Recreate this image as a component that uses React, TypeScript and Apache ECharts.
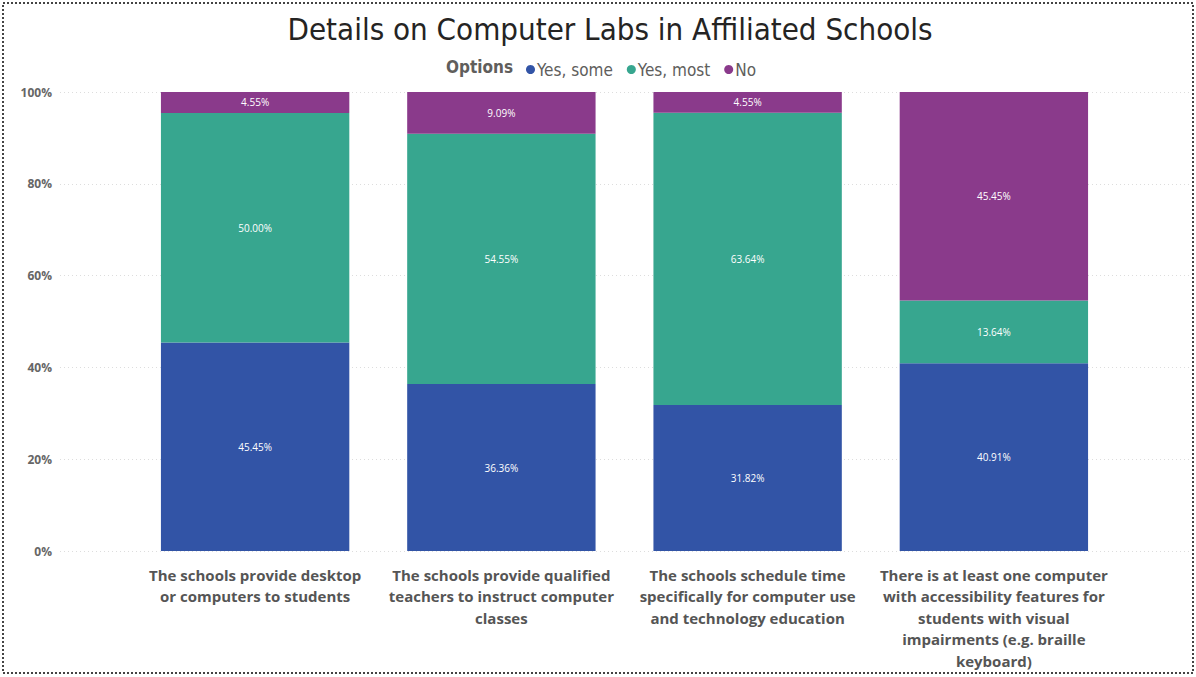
import React, { useEffect, useRef } from "react";
import * as echarts from "echarts";

const categories = [
  "The schools provide desktop\nor computers to students",
  "The schools provide qualified\nteachers to instruct computer\nclasses",
  "The schools schedule time\nspecifically for computer use\nand technology education",
  "There is at least one computer\nwith accessibility features for\nstudents with visual\nimpairments (e.g. braille\nkeyboard)",
];
const seriesNames = ["Yes, some", "Yes, most", "No"];
const yesSome = [45.45, 36.36, 31.82, 40.91];
const yesMost = [50.0, 54.55, 63.64, 13.64];
const no = [4.55, 9.09, 4.55, 45.45];
const yTicks = [0, 20, 40, 60, 80, 100];
const colors = ["#3254A6", "#37A68F", "#8A3A8B"];

export default function App() {
  const ref = useRef<HTMLDivElement>(null);
  useEffect(() => {
    const chart = echarts.init(ref.current!, null, { renderer: "svg" });
    const font = "'Open Sans', 'Noto Sans', sans-serif";
    const mk = (name: string, data: number[], color: string) => ({
      name,
      type: "bar",
      stack: "total",
      data,
      barWidth: "76.5%",
      xAxisIndex: 0,
      yAxisIndex: 0,
      itemStyle: { color },
      label: {
        show: true,
        position: "inside",
        color: "#ffffff",
        fontSize: 10,
        fontFamily: font,
        formatter: (p: any) => p.value.toFixed(2) + "%",
      },
    });
    chart.setOption({
      animation: false,
      backgroundColor: "#ffffff",
      title: {
        text: "Details on Computer Labs in Affiliated Schools",
        left: 605,
        top: 8,
        textAlign: "center",
        textStyle: {
          fontFamily: "'DejaVu Sans Condensed', 'Liberation Sans Narrow', sans-serif",
          fontWeight: "normal",
          fontSize: 31,
          color: "#252423",
        },
      },
      legend: {
        data: seriesNames,
        left: 521,
        top: 56,
        icon: "circle",
        itemWidth: 9,
        itemHeight: 9,
        itemGap: 14,
        textStyle: {
          fontFamily: "'DejaVu Sans Condensed', sans-serif",
          fontSize: 17,
          color: "#605E5C",
          padding: [0, 0, 0, -3],
        },
      },
      graphic: [
        {
          type: "text",
          x: 446,
          y: 67,
          style: {
            text: "Options",
            font: "bold 17px 'DejaVu Sans Condensed', sans-serif",
            fill: "#605E5C",
            verticalAlign: "middle",
          },
        },
        {
          type: "rect",
          shape: { x: 3, y: 3, width: 1190, height: 670 },
          style: { fill: "none", stroke: "#444", lineWidth: 2, lineDash: [2, 2] },
          silent: true,
        },
      ],
      grid: [
        { left: 132, right: 79, top: 92, bottom: 126 },
        { left: 60, right: 6, top: 92, bottom: 126 },
      ],
      xAxis: [
        {
          type: "category",
          gridIndex: 0,
          data: categories,
          axisLine: { show: false },
          axisTick: { show: false },
          axisLabel: {
            interval: 0,
            margin: 13,
            fontFamily: font,
            fontWeight: "bold",
            fontSize: 15,
            lineHeight: 21.5,
            color: "#555555",
          },
        },
        { type: "category", gridIndex: 1, show: false, data: categories },
      ],
      yAxis: [
        {
          type: "value",
          gridIndex: 0,
          min: 0,
          max: 100,
          interval: 20,
          axisLabel: { show: false },
          splitLine: { show: false },
        },
        {
          type: "value",
          gridIndex: 1,
          min: yTicks[0],
          max: yTicks[yTicks.length - 1],
          interval: 20,
          axisLabel: {
            formatter: "{value}%",
            fontFamily: font,
            fontWeight: "bold",
            fontSize: 12,
            color: "#666666",
            margin: 8,
          },
          splitLine: { lineStyle: { color: "#dddddd", type: [1, 3] } },
        },
      ],
      series: [
        mk(seriesNames[0], yesSome, colors[0]),
        mk(seriesNames[1], yesMost, colors[1]),
        mk(seriesNames[2], no, colors[2]),
      ],
    });
    return () => chart.dispose();
  }, []);
  return <div ref={ref} style={{ width: 1196, height: 677, position: "absolute", left: 0, top: 0 }} />;
}
